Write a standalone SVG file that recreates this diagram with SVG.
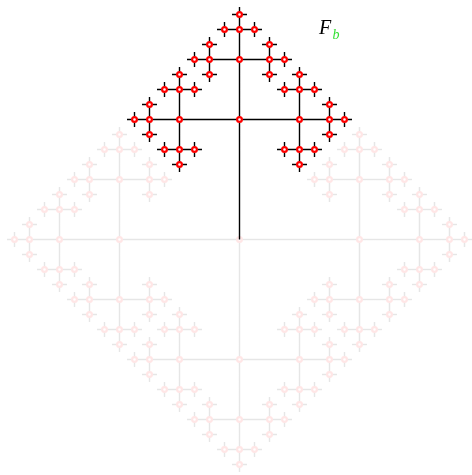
<svg xmlns="http://www.w3.org/2000/svg" xmlns:xlink="http://www.w3.org/1999/xlink" width="472" height="475" viewBox="0 0 472 475">
<style>
.ln{fill:none;stroke:#000;stroke-width:1.4;stroke-linecap:butt}
.nd{fill:#fff;stroke:#f00;stroke-width:2.2}
.lbl{font-family:"Liberation Serif",serif;font-style:italic}
</style>
<rect width="472" height="475" fill="#fff"/>
<g id="faint" opacity="0.1">
<use href="#tree" transform="rotate(90 239.5 239.5)"/>
<use href="#tree" transform="rotate(180 239.5 239.5)"/>
<use href="#tree" transform="rotate(270 239.5 239.5)"/>
<circle class="nd" cx="239.5" cy="239.5" r="2.4"/>
</g>
<g id="tree">
<g id="connectors">
<path class="ln" d="M239.5 239.5V7M127 119.5H352M187 59.5H292M179.5 67V172M299.5 67V172M217 29.5H262M209.5 37V82M269.5 37V82M149.5 97V142M157 89.5H202M157 149.5H202M329.5 97V142M277 89.5H322M277 149.5H322M232 14.5H247M224.5 22V37M254.5 22V37M194.5 52V67M202 44.5H217M202 74.5H217M284.5 52V67M262 44.5H277M262 74.5H277M134.5 112V127M142 104.5H157M142 134.5H157M172 74.5H187M164.5 82V97M194.5 82V97M172 164.5H187M164.5 142V157M194.5 142V157M344.5 112V127M322 104.5H337M322 134.5H337M292 74.5H307M284.5 82V97M314.5 82V97M292 164.5H307M284.5 142V157M314.5 142V157"/>
</g>
<g id="nodes">
<g id="n1"><circle class="nd" cx="239.5" cy="119.5" r="2.4"/></g>
<g id="n2"><circle class="nd" cx="239.5" cy="59.5" r="2.4"/></g>
<g id="n3"><circle class="nd" cx="179.5" cy="119.5" r="2.4"/></g>
<g id="n4"><circle class="nd" cx="299.5" cy="119.5" r="2.4"/></g>
<g id="n5"><circle class="nd" cx="239.5" cy="29.5" r="2.4"/></g>
<g id="n6"><circle class="nd" cx="209.5" cy="59.5" r="2.4"/></g>
<g id="n7"><circle class="nd" cx="269.5" cy="59.5" r="2.4"/></g>
<g id="n8"><circle class="nd" cx="149.5" cy="119.5" r="2.4"/></g>
<g id="n9"><circle class="nd" cx="179.5" cy="89.5" r="2.4"/></g>
<g id="n10"><circle class="nd" cx="179.5" cy="149.5" r="2.4"/></g>
<g id="n11"><circle class="nd" cx="329.5" cy="119.5" r="2.4"/></g>
<g id="n12"><circle class="nd" cx="299.5" cy="89.5" r="2.4"/></g>
<g id="n13"><circle class="nd" cx="299.5" cy="149.5" r="2.4"/></g>
<g id="n14"><circle class="nd" cx="239.5" cy="14.5" r="2.4"/></g>
<g id="n15"><circle class="nd" cx="224.5" cy="29.5" r="2.4"/></g>
<g id="n16"><circle class="nd" cx="254.5" cy="29.5" r="2.4"/></g>
<g id="n17"><circle class="nd" cx="194.5" cy="59.5" r="2.4"/></g>
<g id="n18"><circle class="nd" cx="209.5" cy="44.5" r="2.4"/></g>
<g id="n19"><circle class="nd" cx="209.5" cy="74.5" r="2.4"/></g>
<g id="n20"><circle class="nd" cx="284.5" cy="59.5" r="2.4"/></g>
<g id="n21"><circle class="nd" cx="269.5" cy="44.5" r="2.4"/></g>
<g id="n22"><circle class="nd" cx="269.5" cy="74.5" r="2.4"/></g>
<g id="n23"><circle class="nd" cx="134.5" cy="119.5" r="2.4"/></g>
<g id="n24"><circle class="nd" cx="149.5" cy="104.5" r="2.4"/></g>
<g id="n25"><circle class="nd" cx="149.5" cy="134.5" r="2.4"/></g>
<g id="n26"><circle class="nd" cx="179.5" cy="74.5" r="2.4"/></g>
<g id="n27"><circle class="nd" cx="164.5" cy="89.5" r="2.4"/></g>
<g id="n28"><circle class="nd" cx="194.5" cy="89.5" r="2.4"/></g>
<g id="n29"><circle class="nd" cx="179.5" cy="164.5" r="2.4"/></g>
<g id="n30"><circle class="nd" cx="164.5" cy="149.5" r="2.4"/></g>
<g id="n31"><circle class="nd" cx="194.5" cy="149.5" r="2.4"/></g>
<g id="n32"><circle class="nd" cx="344.5" cy="119.5" r="2.4"/></g>
<g id="n33"><circle class="nd" cx="329.5" cy="104.5" r="2.4"/></g>
<g id="n34"><circle class="nd" cx="329.5" cy="134.5" r="2.4"/></g>
<g id="n35"><circle class="nd" cx="299.5" cy="74.5" r="2.4"/></g>
<g id="n36"><circle class="nd" cx="284.5" cy="89.5" r="2.4"/></g>
<g id="n37"><circle class="nd" cx="314.5" cy="89.5" r="2.4"/></g>
<g id="n38"><circle class="nd" cx="299.5" cy="164.5" r="2.4"/></g>
<g id="n39"><circle class="nd" cx="284.5" cy="149.5" r="2.4"/></g>
<g id="n40"><circle class="nd" cx="314.5" cy="149.5" r="2.4"/></g>
</g>
</g>
<g id="label">
<text class="lbl" x="319" y="34" font-size="20" fill="#000">F</text>
<text class="lbl" x="332.5" y="38.5" font-size="14" fill="#33e033">b</text>
</g>
</svg>
